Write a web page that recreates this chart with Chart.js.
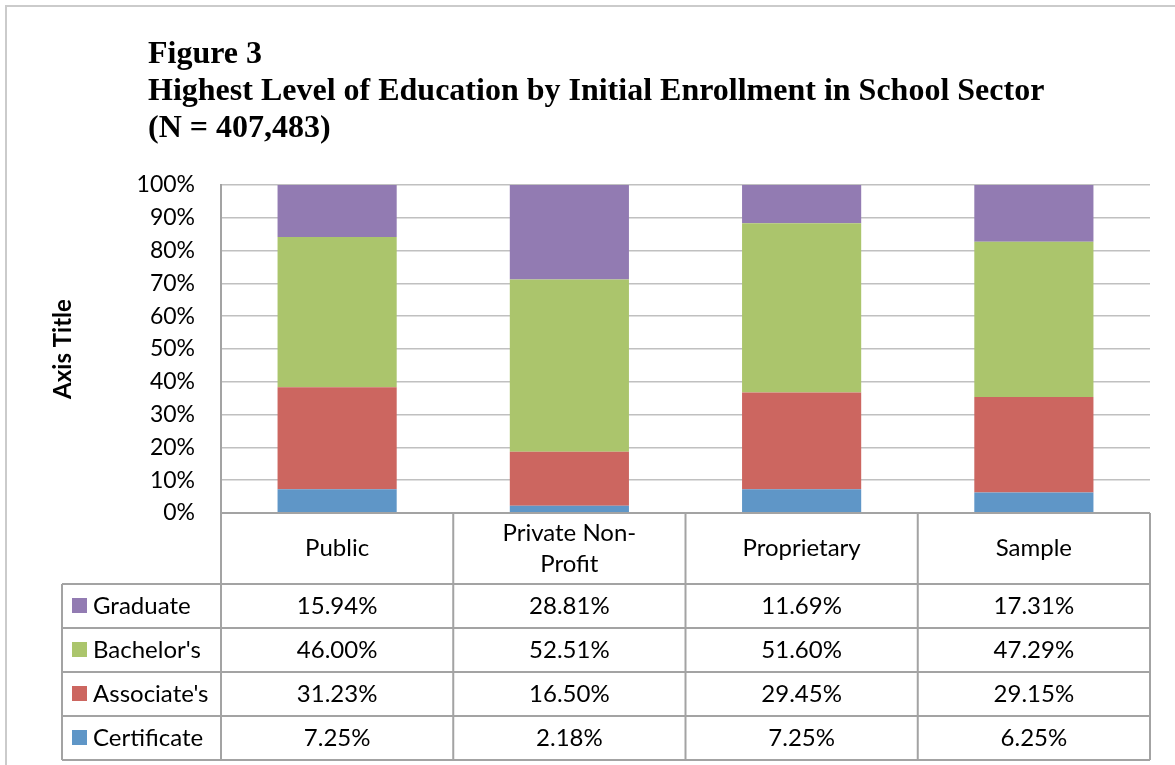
<!DOCTYPE html>
<html>
<head>
<meta charset="utf-8">
<script src="https://cdn.jsdelivr.net/npm/chart.js@4/dist/chart.umd.min.js"></script>
<style>
  html, body { margin: 0; padding: 0; background: #fff; }
  canvas { display: block; }
</style>
</head>
<body>
<canvas id="myCanvas" width="1175" height="765"></canvas>
<script>
var categories = ["Public", ["Private Non-", "Profit"], "Proprietary", "Sample"];
var levels = ["Graduate", "Bachelor's", "Associate's", "Certificate"];
var graduate = [15.94, 28.81, 11.69, 17.31];
var bachelors = [46.00, 52.51, 51.60, 47.29];
var associates = [31.23, 16.50, 29.45, 29.15];
var certificate = [7.25, 2.18, 7.25, 6.25];
var yTicks = [0, 10, 20, 30, 40, 50, 60, 70, 80, 90, 100];
var titleLines = [
  "Figure 3",
  "Highest Level of Education by Initial Enrollment in School Sector",
  "(N = 407,483)"
];

var colors = {
  "Graduate": "#927bb2",
  "Bachelor's": "#abc56c",
  "Associate's": "#cc6660",
  "Certificate": "#5f96c7"
};
var seriesByLevel = {
  "Graduate": graduate,
  "Bachelor's": bachelors,
  "Associate's": associates,
  "Certificate": certificate
};

var FONT = "Lato, 'Open Sans', sans-serif";

// 100% stacked: each column is scaled to its own total
function share(series, i) {
  var total = graduate[i] + bachelors[i] + associates[i] + certificate[i];
  return series[i] / total * 100;
}

// bottom of stack first
var stackOrder = ["Certificate", "Associate's", "Bachelor's", "Graduate"];
var datasets = stackOrder.map(function (lvl) {
  var s = seriesByLevel[lvl];
  return {
    label: lvl,
    data: s.map(function (v, i) { return share(s, i); }),
    backgroundColor: colors[lvl],
    borderWidth: 0,
    categoryPercentage: 1,
    barPercentage: 0.513
  };
});

var framePlugin = {
  id: "frame",
  beforeDraw: function (chart) {
    var ctx = chart.ctx;
    ctx.save();
    ctx.fillStyle = "#fff";
    ctx.fillRect(0, 0, chart.width, chart.height);
    ctx.strokeStyle = "#cbcbcb";
    ctx.lineWidth = 2;
    ctx.strokeRect(6, 6, chart.width + 20, chart.height + 20);
    ctx.restore();
  },
  afterDraw: function (chart) {
    var ctx = chart.ctx;
    ctx.save();
    // title
    ctx.fillStyle = "#000";
    ctx.font = "bold 32px 'Liberation Serif', 'Times New Roman', serif";
    ctx.textAlign = "left";
    ctx.textBaseline = "alphabetic";
    titleLines.forEach(function (t, i) {
      ctx.fillText(t, 148, 63 + i * 37);
    });
    ctx.restore();
  }
};

var tablePlugin = {
  id: "dataTable",
  afterDraw: function (chart) {
    var ctx = chart.ctx;
    var xs = chart.scales.x;
    var area = chart.chartArea;
    var colW = xs.getPixelForValue(1) - xs.getPixelForValue(0);
    var top = area.bottom;
    var headerH = 71;
    var rowH = 44;
    var legendLeft = area.left - 159;
    var bottom = top + headerH + rowH * levels.length;
    var n = categories.length;
    var right = xs.getPixelForValue(n - 1) + colW / 2;

    ctx.save();
    ctx.strokeStyle = "#a3a3a3";
    ctx.lineWidth = 2;
    ctx.beginPath();
    ctx.moveTo(area.left, top);
    ctx.lineTo(right, top);
    for (var r = 0; r <= levels.length; r++) {
      var y = top + headerH + r * rowH;
      ctx.moveTo(legendLeft, y);
      ctx.lineTo(right, y);
    }
    ctx.moveTo(legendLeft, top + headerH);
    ctx.lineTo(legendLeft, bottom);
    for (var c = 0; c <= n; c++) {
      var x = xs.getPixelForValue(0) - colW / 2 + c * colW;
      ctx.moveTo(x, top);
      ctx.lineTo(x, bottom);
    }
    ctx.stroke();

    ctx.fillStyle = "#000";
    ctx.font = "24px " + FONT;
    ctx.textAlign = "center";
    ctx.textBaseline = "middle";
    // header
    categories.forEach(function (cat, i) {
      var cx = xs.getPixelForValue(i);
      var lines = Array.isArray(cat) ? cat : [cat];
      var lh = 31;
      var y0 = top + headerH / 2 - (lines.length - 1) * lh / 2;
      lines.forEach(function (l, k) {
        ctx.fillText(l, cx, y0 + k * lh);
      });
    });
    // rows
    levels.forEach(function (lvl, r) {
      var cy = top + headerH + r * rowH + rowH / 2;
      ctx.fillStyle = colors[lvl];
      ctx.fillRect(legendLeft + 10, cy - 8, 15, 15);
      ctx.fillStyle = "#000";
      ctx.textAlign = "left";
      ctx.fillText(lvl, legendLeft + 31, cy);
      ctx.textAlign = "center";
      seriesByLevel[lvl].forEach(function (v, i) {
        ctx.fillText(v.toFixed(2) + "%", xs.getPixelForValue(i), cy);
      });
    });
    ctx.restore();
  }
};

Chart.defaults.color = "#000";

new Chart(document.getElementById("myCanvas"), {
  type: "bar",
  data: {
    labels: categories,
    datasets: datasets
  },
  options: {
    responsive: false,
    animation: false,
    layout: { padding: { left: 0, top: 185, right: 25, bottom: 244 } },
    plugins: {
      legend: { display: false },
      tooltip: { enabled: false },
      title: { display: false }
    },
    scales: {
      x: {
        stacked: true,
        grid: { display: false },
        border: { display: false },
        ticks: { display: false }
      },
      y: {
        stacked: true,
        min: 0,
        max: 100,
        afterFit: function (scale) { scale.width = 221; },
        afterBuildTicks: function (scale) {
          scale.ticks = yTicks.map(function (v) { return { value: v }; });
        },
        ticks: {
          padding: 26,
          font: { family: FONT, size: 23 },
          callback: function (v) { return v + "%"; }
        },
        grid: { color: "#c0c0c0", lineWidth: 1.5, drawTicks: false },
        border: { color: "#a3a3a3", width: 2 },
        title: {
          display: true,
          text: "Axis Title",
          font: { family: FONT, size: 24, weight: "bold" },
          padding: { top: 49, bottom: 0 }
        }
      }
    }
  },
  plugins: [framePlugin, tablePlugin]
});
</script>
</body>
</html>
